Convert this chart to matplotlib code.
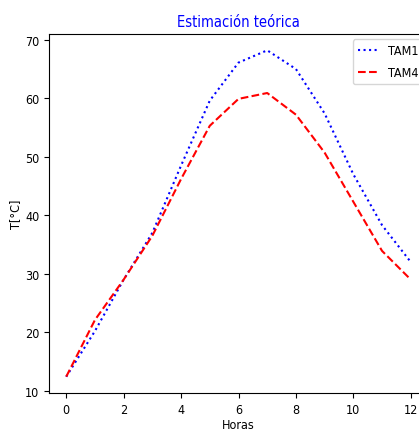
import matplotlib
matplotlib.use("Agg")
import matplotlib.pyplot as plt

plt.rcParams['font.family'] = ['DejaVu Sans']
plt.rcParams['font.stretch'] = 'condensed'

horas = [0, 1, 2, 3, 4, 5, 6, 7, 8, 9, 10, 11, 12]
tam1 = [12.4, 20.2, 29.0, 37.0, 48.5, 59.6, 66.1, 68.2, 65.0, 57.4, 47.0, 38.3, 32.0]
tam4 = [12.4, 22.1, 29.0, 36.5, 46.2, 55.3, 59.9, 60.9, 57.2, 50.7, 42.3, 33.9, 29.0]

fig = plt.figure(figsize=(4.19, 4.31), dpi=100)
ax = fig.add_axes([49/419, 37/431, 379/419, 359/431])
ax.plot(horas, tam1, color='blue', linestyle=':', label='TAM1')
ax.plot(horas, tam4, color='red', linestyle='--', label='TAM4')
ax.set_xticks([0, 2, 4, 6, 8, 10, 12])
ax.set_yticks([10, 20, 30, 40, 50, 60, 70])
ax.tick_params(labelsize=9)
ax.set_title('Estimación teórica', color='blue', fontsize=10.5)
ax.set_xlabel('Horas', fontsize=9, labelpad=2)
ax.set_ylabel('T[°C]', fontsize=9, labelpad=2)
ax.legend(loc='upper right', fontsize=9, handlelength=1.6, labelspacing=0.75,
          borderaxespad=0.4)
fig.savefig('out.png', dpi=100)
